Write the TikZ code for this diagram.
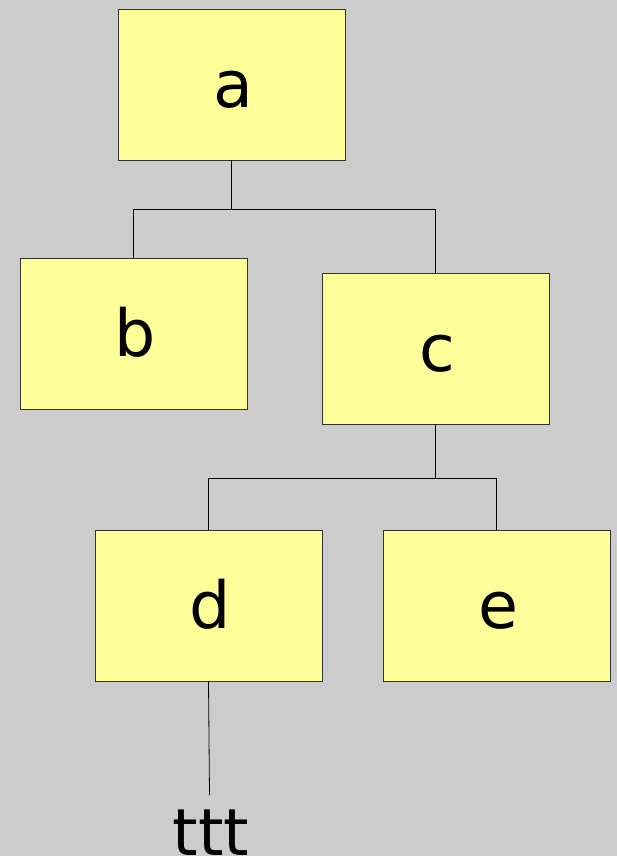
\documentclass[tikz,border=0pt]{standalone}
\usepackage{fontspec}
\setmainfont{DejaVu Sans}
\begin{document}
\begin{tikzpicture}[x=1pt,y=-1pt,
  box/.style={draw=black!80,fill=boxfill,line width=0.8pt,minimum width=227pt,minimum height=151pt,inner sep=0pt},
  lbl/.style={anchor=base,inner sep=0pt,font=\fontsize{65}{70}\selectfont},
  link/.style={draw=black,line width=0.8pt}]
\definecolor{boxfill}{HTML}{FFFF99}
\definecolor{bg}{HTML}{CCCCCC}
\useasboundingbox (0,0) rectangle (616,856);
\fill[bg] (-3,-3) rectangle (619,859);
\node[box] (a) at (231.5,84.5) {};
\node[box] (b) at (133.5,333.5) {};
\node[box] (c) at (435.5,348.5) {};
\node[box] (d) at (208.5,605.5) {};
\node[box] (e) at (496.5,605.5) {};
\node[lbl] at (233,107) {a};
\node[lbl] at (135,356) {b};
\node[lbl] at (437,371) {c};
\node[lbl] at (210,628) {d};
\node[lbl] at (498,628) {e};
\node[lbl] (t) at (211,855) {ttt};
\coordinate (tt) at (209.5,795);
\draw[link] (a.south) -- ++(0,49) -| (b.north);
\draw[link] (a.south) -- ++(0,49) -| (c.north);
\draw[link] (c.south) -- ++(0,54) -| (d.north);
\draw[link] (c.south) -- ++(0,54) -| (e.north);
\draw[link] (d.south) -- (tt);
\end{tikzpicture}
\end{document}
